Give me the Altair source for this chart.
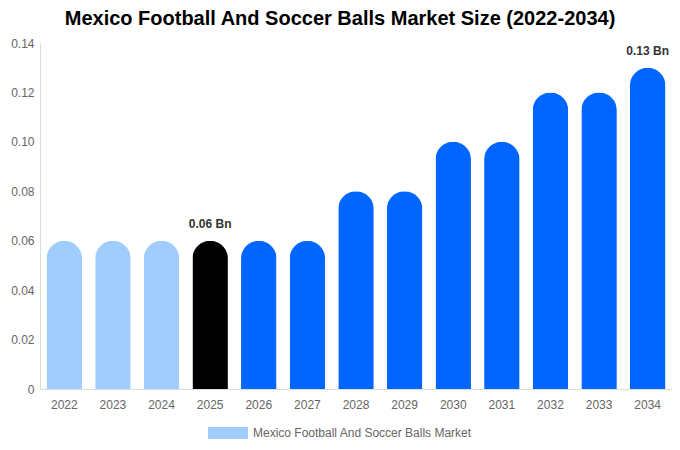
import altair as alt
import pandas as pd

years = ["2022", "2023", "2024", "2025", "2026", "2027", "2028", "2029", "2030", "2031", "2032", "2033", "2034"]
values = [0.06, 0.06, 0.06, 0.06, 0.06, 0.06, 0.08, 0.08, 0.10, 0.10, 0.12, 0.12, 0.13]
colors = ["#a0cdfd", "#a0cdfd", "#a0cdfd", "#000000", "#0066ff", "#0066ff", "#0066ff",
          "#0066ff", "#0066ff", "#0066ff", "#0066ff", "#0066ff", "#0066ff"]
labels = ["", "", "", "0.06 Bn", "", "", "", "", "", "", "", "", "0.13 Bn"]
series_name = "Mexico Football And Soccer Balls Market"

df = pd.DataFrame({"year": years, "value": values, "hex": colors, "label": labels,
                   "series": [series_name] * len(years)})

FONT = "Liberation Sans"

x = alt.X("year:N", sort=years, title=None,
          scale=alt.Scale(paddingInner=0.27, paddingOuter=0.135),
          axis=alt.Axis(labelAngle=0, ticks=False, labelPadding=10, labelFontSize=12,
                        labelColor="#666666", domainColor="#dddddd", labelFont=FONT))
y = alt.Y("value:Q", title=None,
          scale=alt.Scale(domain=[0, 0.14]),
          axis=alt.Axis(values=[0, 0.02, 0.04, 0.06, 0.08, 0.10, 0.12, 0.14], grid=False,
                        ticks=False, labelPadding=6, labelFontSize=12, labelColor="#666666",
                        domainColor="#dddddd", labelFont=FONT,
                        labelExpr="datum.value == 0 ? '0' : format(datum.value, '.2f')"))

base = alt.Chart(df)

bars = base.mark_bar(cornerRadiusTopLeft=18, cornerRadiusTopRight=18).encode(
    x=x, y=y, fill=alt.Fill("hex:N", scale=None)
)

legend_layer = base.mark_bar(opacity=0).encode(
    x=x, y=y,
    color=alt.Color("series:N", scale=alt.Scale(range=["#a0cdfd"]), title=None,
                    legend=alt.Legend(orient="none", legendX=168, legendY=370, padding=0,
                                      symbolType="M-1,-0.3L1,-0.3L1,0.3L-1,0.3Z",
                                      symbolSize=1600, symbolOpacity=1, symbolStrokeWidth=0,
                                      symbolFillColor="#a0cdfd", labelOffset=5,
                                      labelFontSize=12, labelColor="#666666", labelFont=FONT,
                                      labelLimit=400))
)

text = base.transform_filter("datum.label != ''").mark_text(
    baseline="bottom", dy=-10, fontSize=12, fontWeight="bold", color="#333333", font=FONT
).encode(x=x, y=y, text="label:N")

chart = alt.layer(bars, legend_layer, text).properties(
    width=632, height=346,
    autosize=alt.AutoSizeParams(type="none"),
    padding={"left": 32, "top": 35, "right": 0, "bottom": 53},
    title=alt.Title("Mexico Football And Soccer Balls Market Size (2022-2034)",
                    fontSize=20, fontWeight="bold", font=FONT, color="#000000",
                    anchor="middle", dx=-16, offset=8)
).configure_view(stroke=None)

chart.save("out.html", embed_options={"renderer": "svg", "actions": False})
